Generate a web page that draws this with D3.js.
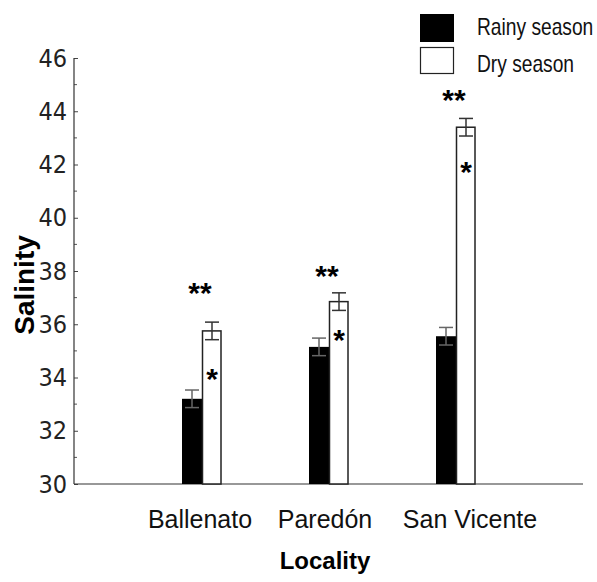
<!DOCTYPE html>
<html><head><meta charset="utf-8">
<script src="https://cdn.jsdelivr.net/npm/d3@7"></script>
<style>body{margin:0;background:#fff}svg{display:block}</style>
</head><body>
<script>
const categories = ["Ballenato", "Paredón", "San Vicente"];
const seasons = ["Rainy season", "Dry season"];
const rainy = [33.2, 35.15, 35.55];
const dry = [35.75, 36.85, 43.4];
const rainyErr = [0.33, 0.33, 0.33];
const dryErr = [0.33, 0.33, 0.33];
const yTicks = [30, 32, 34, 36, 38, 40, 42, 44, 46];
const doubleStarY = [37.35, 38.0, 44.6];
const singleStarY = [34.15, 35.6, 41.9];

const W = 597, H = 582;
const svg = d3.select("body").append("svg").attr("width", W).attr("height", H);

const y = d3.scaleLinear().domain([30, 46]).range([484, 58]);
const x = d3.scalePoint().domain(categories).range([202, 456]);
const barW = 20;
const x0 = 74, xEnd = 583;
const labelDx = [-2, -4, 14];

// axes
const yAxis = d3.axisLeft(y).tickValues(yTicks).tickSize(-4).tickPadding(7).tickFormat(d3.format("d"));
const gy = svg.append("g").attr("transform", `translate(${x0},0)`).call(yAxis);
gy.select(".domain").remove();
gy.selectAll(".tick line").attr("stroke", "#444");
gy.selectAll(".tick text").attr("font-family", "DejaVu Sans Condensed").attr("font-size", 25).attr("fill", "#222");
const minor = d3.range(31, 46, 2);
svg.append("g").selectAll("line").data(minor).join("line")
  .attr("x1", x0).attr("x2", x0 + 3).attr("y1", d => y(d)).attr("y2", d => y(d)).attr("stroke", "#555");
svg.append("line").attr("x1", x0).attr("x2", x0).attr("y1", y(46)).attr("y2", y(30)).attr("stroke", "#333").attr("stroke-width", 1.2);
svg.append("line").attr("x1", x0).attr("x2", xEnd).attr("y1", y(30)).attr("y2", y(30)).attr("stroke", "#333").attr("stroke-width", 1.2);

// bars
const g = svg.append("g");
categories.forEach((c, i) => {
  const cx = x(c);
  g.append("rect").attr("x", cx - barW).attr("y", y(rainy[i])).attr("width", barW).attr("height", y(30) - y(rainy[i])).attr("fill", "#000");
  g.append("rect").attr("x", cx + 0.5).attr("y", y(dry[i])).attr("width", barW - 1.5).attr("height", y(30) - y(dry[i])).attr("fill", "#fff").attr("stroke", "#222").attr("stroke-width", 1.5);
  const eb = (xc, v, e, col) => {
    g.append("line").attr("x1", xc).attr("x2", xc).attr("y1", y(v + e)).attr("y2", y(v - e)).attr("stroke", col).attr("stroke-width", 1.5);
    [v + e, v - e].forEach(t => g.append("line").attr("x1", xc - 7).attr("x2", xc + 7).attr("y1", y(t)).attr("y2", y(t)).attr("stroke", col).attr("stroke-width", 1.5));
  };
  eb(cx - barW / 2, rainy[i], rainyErr[i], "#666");
  eb(cx + barW / 2, dry[i], dryErr[i], "#333");
  g.append("text").attr("x", cx - 2).attr("y", y(doubleStarY[i]) + 15).attr("text-anchor", "middle")
    .attr("font-family", "Liberation Sans").attr("font-weight", "bold").attr("font-size", 30).attr("fill", "#000").text("**");
  g.append("text").attr("x", cx + barW / 2).attr("y", y(singleStarY[i]) + 15).attr("text-anchor", "middle")
    .attr("font-family", "Liberation Sans").attr("font-weight", "bold").attr("font-size", 30).attr("fill", "#000").text("*");
  svg.append("text").attr("x", cx + labelDx[i]).attr("y", 528).attr("text-anchor", "middle")
    .attr("font-family", "Liberation Sans").attr("font-size", 25).attr("fill", "#111").text(c);
});

// axis titles
svg.append("text").attr("transform", "translate(34,285) rotate(-90)").attr("text-anchor", "middle")
  .attr("font-family", "Liberation Sans").attr("font-weight", "bold").attr("font-size", 28).attr("fill", "#000").text("Salinity");
svg.append("text").attr("x", 325).attr("y", 569).attr("text-anchor", "middle")
  .attr("font-family", "Liberation Sans").attr("font-weight", "bold").attr("font-size", 24).attr("fill", "#000").text("Locality");

// legend
const leg = svg.append("g");
leg.append("rect").attr("x", 420).attr("y", 14).attr("width", 34).attr("height", 28).attr("fill", "#000");
leg.append("rect").attr("x", 420.5).attr("y", 47.5).attr("width", 33).attr("height", 26).attr("fill", "#fff").attr("stroke", "#222").attr("stroke-width", 1.2);
leg.append("text").attr("transform", "translate(477,35) scale(0.8,1)").attr("font-family", "Liberation Sans").attr("font-size", 24).attr("fill", "#111").text(seasons[0]);
leg.append("text").attr("transform", "translate(477,72) scale(0.8,1)").attr("font-family", "Liberation Sans").attr("font-size", 24).attr("fill", "#111").text(seasons[1]);
</script>
</body></html>
